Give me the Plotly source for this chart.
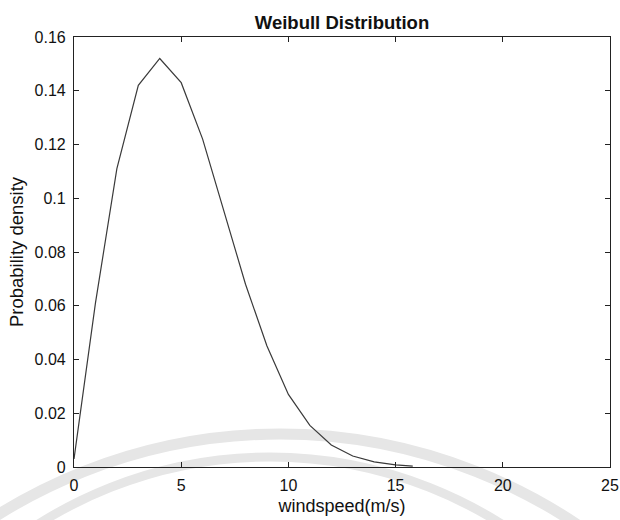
import plotly.graph_objects as go

# Wind speed samples (m/s) and the Weibull probability density at each
windspeed = [0, 1, 2, 3, 4, 5, 6, 7, 8, 9, 10, 11, 12, 13, 14, 15, 15.8]
density = [0.003, 0.061, 0.111, 0.142, 0.152, 0.143, 0.122, 0.095, 0.068,
           0.045, 0.027, 0.0155, 0.0082, 0.0041, 0.0019, 0.0008, 0.0003]

x_ticks = [0, 5, 10, 15, 20, 25]
y_ticks = [0, 0.02, 0.04, 0.06, 0.08, 0.1, 0.12, 0.14, 0.16]
y_tick_text = ["0", "0.02", "0.04", "0.06", "0.08", "0.1", "0.12", "0.14", "0.16"]

FONT = "Liberation Sans, Arial, Helvetica, sans-serif"

W, H = 620, 520
L, R, T, B = 74, 10, 37, 53
PW, PH = W - L - R, H - T - B


def px_circle(cx, cy, r):
    """Bounding box of a pixel-space circle in paper coordinates."""
    return dict(
        x0=(cx - r - L) / PW, x1=(cx + r - L) / PW,
        y0=(H - B - (cy + r)) / PH, y1=(H - B - (cy - r)) / PH,
    )


fig = go.Figure()
fig.add_trace(go.Scatter(
    x=windspeed, y=density, mode="lines",
    line=dict(color="#3a3a3a", width=1.2),
    showlegend=False, hoverinfo="x+y",
))

# faint background seal arcs
for (cx, cy, r, w) in [(280, 966, 532, 11), (270, 890, 433, 9)]:
    fig.add_shape(type="circle", xref="paper", yref="paper", layer="below",
                  line=dict(color="rgb(230,230,230)", width=w),
                  fillcolor="rgba(0,0,0,0)", **px_circle(cx, cy, r))

axis_common = dict(
    showline=True, linecolor="#222", linewidth=1.2, mirror="ticks",
    ticks="inside", ticklen=5, tickcolor="#222", tickwidth=1.2,
    showgrid=False, zeroline=False, automargin=False,
    tickfont=dict(family=FONT, size=16, color="#111"),
)

fig.update_xaxes(
    range=[0, 25], tickvals=x_ticks, ticktext=[str(v) for v in x_ticks],
    ticklabelstandoff=4,
    title=dict(text="windspeed(m/s)", font=dict(family=FONT, size=18, color="#111"),
               standoff=6),
    **axis_common,
)
fig.update_yaxes(
    range=[0, 0.16], tickvals=y_ticks, ticktext=y_tick_text,
    ticklabelstandoff=4,
    title=dict(text="Probability density", font=dict(family=FONT, size=18.5, color="#111"),
               standoff=6),
    **axis_common,
)

fig.update_layout(
    width=W, height=H,
    margin=dict(l=L, r=R, t=T, b=B, pad=0),
    paper_bgcolor="white", plot_bgcolor="rgba(0,0,0,0)",
    title=dict(text="<b>Weibull Distribution</b>", x=0.5, xanchor="center",
               xref="paper", y=1 - 23 / H, yanchor="middle",
               font=dict(family=FONT, size=18.5, color="#111")),
)

fig.write_html("out.html")
